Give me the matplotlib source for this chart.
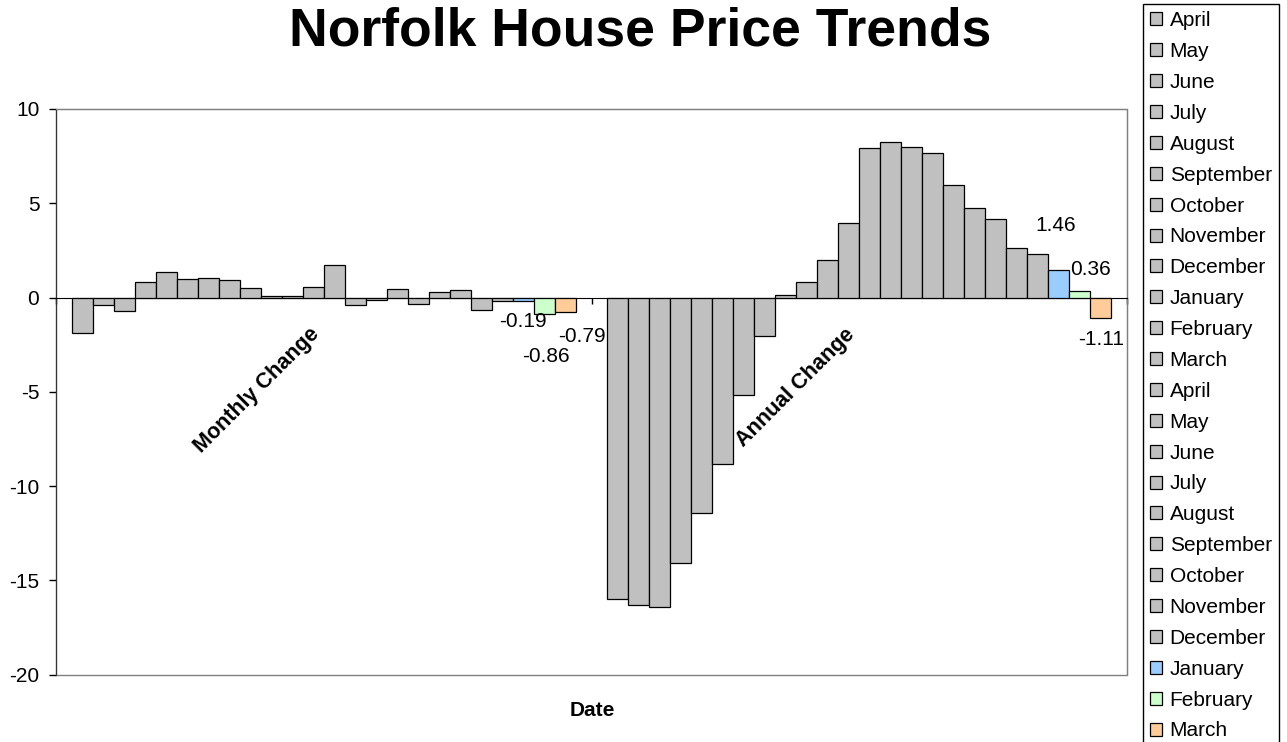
import numpy as np
import matplotlib.pyplot as plt
from matplotlib.patches import Patch, Rectangle

plt.rcParams['font.family'] = ['Liberation Sans', 'DejaVu Sans']
plt.rcParams['axes.unicode_minus'] = False

# data
months = ['April', 'May', 'June', 'July', 'August', 'September', 'October',
          'November', 'December', 'January', 'February', 'March'] * 2
groups = ['Monthly Change', 'Annual Change']
monthly = [-1.88, -0.41, -0.69, 0.80, 1.33, 0.99, 1.02, 0.92, 0.51, 0.10, 0.08, 0.55,
           1.71, -0.41, -0.14, 0.44, -0.32, 0.30, 0.40, -0.64, -0.20, -0.19, -0.86, -0.79]
annual = [-16.0, -16.31, -16.42, -14.10, -11.42, -8.80, -5.18, -2.04, 0.12, 0.83, 1.99, 3.94,
          7.93, 8.25, 7.99, 7.67, 5.95, 4.77, 4.17, 2.65, 2.30, 1.46, 0.36, -1.11]
colours = ['#C0C0C0'] * 21 + ['#99CCFF', '#CCFFCC', '#FFCC99']

# labelled bars: (group, series, text, offset in points)
labels = [(0, 21, '-0.19', (0, -15)),
          (0, 22, '-0.86', (1, -31)),
          (0, 23, '-0.79', (12, -17)),
          (1, 21, '1.46', (-2, 32)),
          (1, 22, '0.36', (8, 15)),
          (1, 23, '-1.11', (0, -15))]

W, H = 1287, 742
fig = plt.figure(figsize=(W / 100, H / 100), dpi=100)
ax = fig.add_axes([56 / W, 1 - 674.7 / H, (1127 - 56) / W, (674.7 - 109) / H])

n = len(months)
w = 1.0 / (n + 1.5)
x = np.arange(len(groups))
handles = []
for i in range(n):
    vals = [monthly[i], annual[i]]
    ax.bar(x + (i - (n - 1) / 2) * w, vals, width=w, color=colours[i],
           edgecolor='black', linewidth=0.9, zorder=3)
    handles.append(Patch(facecolor=colours[i], edgecolor='black', linewidth=0.9))

for g, i, txt, off in labels:
    xv = x[g] + (i - (n - 1) / 2) * w
    yv = [monthly, annual][g][i]
    ax.annotate(txt, (xv, yv), xytext=off, textcoords='offset points',
                ha='center', va='center', fontsize=15)

# category labels
for g, name in enumerate(groups):
    ax.annotate(name, (x[g], 0), xytext=(0, -19), textcoords='offset points',
                rotation=45, ha='right', va='top', fontsize=15.5, fontweight='bold')

ax.set_xlim(-0.5, 1.5)
ax.set_ylim(-20, 10)
ax.set_yticks(np.arange(-20, 11, 5))
ax.tick_params(axis='y', direction='out', length=5, width=1, labelsize=15, pad=7)

ax.spines['bottom'].set_position(('data', 0))
ax.spines['bottom'].set_color('black')
ax.spines['left'].set_color('#333333')
for s in ['top', 'right']:
    ax.spines[s].set_color('#808080')
ax.add_patch(Rectangle((0, 0), 1, 1, transform=ax.transAxes, fill=False,
                       edgecolor='#808080', linewidth=1, clip_on=False))
ax.set_xticks([-0.5, 0.5, 1.5])
ax.set_xticklabels([])
ax.tick_params(axis='x', direction='out', length=4, width=1)

fig.text(592 / W, 1 - 710 / H, 'Date', ha='center', va='center',
         fontsize=15, fontweight='bold')
fig.text(640 / W, 1 - 45 / H, 'Norfolk House Price Trends', ha='center',
         va='baseline', fontsize=38.5, fontweight='bold')

fig.legend(handles, months, loc='upper left', bbox_to_anchor=(1143 / W, 1 - 4 / H),
           borderaxespad=0, fontsize=15, handlelength=0.58, handleheight=0.58,
           handletextpad=0.35, labelspacing=0.57, borderpad=0.35,
           fancybox=False, framealpha=1, edgecolor='black')

plt.savefig('out.png', dpi=100)
